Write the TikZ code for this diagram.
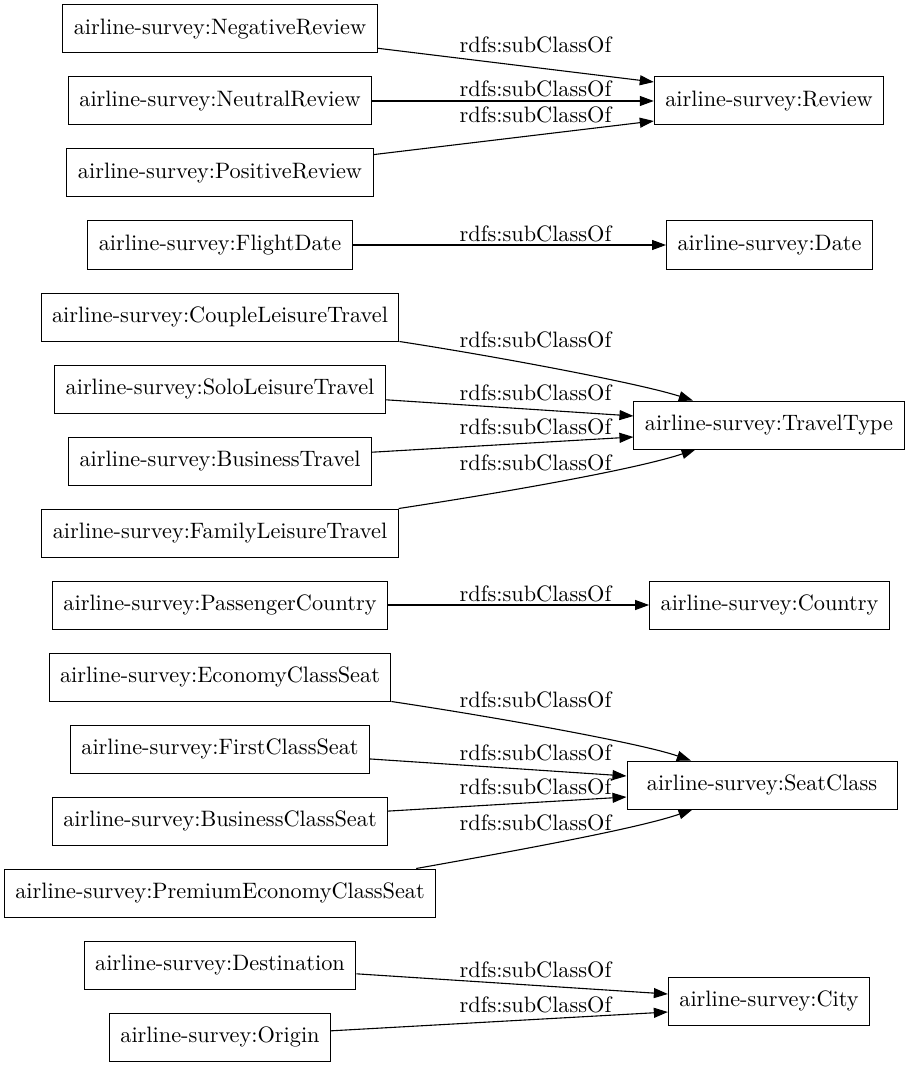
\documentclass[tikz,border=0pt]{standalone}
\usetikzlibrary{arrows.meta}

\font\clsfont="[lmroman10-regular]" at 22.3pt

\begin{document}
\begin{tikzpicture}[
    x=1pt, y=-1pt,
    cls/.style={draw, rectangle, line width=1pt, minimum height=48pt, inner xsep=11pt, font=\clsfont},
    rel/.style={anchor=base, inner sep=0pt, font=\clsfont},
    arrow/.style={-{Triangle[length=14pt, width=10pt]}, line width=1.1pt}
]
    \useasboundingbox (0,0) rectangle (908,1067);

    % Reviews
    \node[cls] (negative) at (220,29) {airline-survey:NegativeReview};
    \node[cls] (neutral) at (220,101) {airline-survey:NeutralReview};
    \node[cls] (positive) at (220,173) {airline-survey:PositiveReview};
    \node[cls] (review) at (769,101) {airline-survey:Review};

    \draw[arrow] (negative) -- ([yshift=19pt]review.west);
    \draw[arrow] (neutral) -- (review);
    \draw[arrow] (positive) -- ([yshift=-20pt]review.west);
    \node[rel] (lnegative) at (535.5,53) {rdfs:subClassOf};
    \node[rel] (lneutral) at (535.5,97) {rdfs:subClassOf};
    \node[rel] (lpositive) at (535.5,123) {rdfs:subClassOf};

    % Dates
    \node[cls] (flightdate) at (220,245) {airline-survey:FlightDate};
    \node[cls] (date) at (769.5,245) {airline-survey:Date};
    \draw[arrow] (flightdate) -- (date);
    \node[rel] (lflightdate) at (535.5,241) {rdfs:subClassOf};

    % Travel types
    \node[cls] (couple) at (220,317) {airline-survey:CoupleLeisureTravel};
    \node[cls] (solo) at (220,389) {airline-survey:SoloLeisureTravel};
    \node[cls] (business) at (220,461) {airline-survey:BusinessTravel};
    \node[cls] (family) at (220,533) {airline-survey:FamilyLeisureTravel};
    \node[cls] (traveltype) at (769,425) {airline-survey:TravelType};

    \draw[arrow] (couple.south east) .. controls (500,357) and (640,383.5) .. (traveltype);
    \draw[arrow] (solo) -- ([yshift=9pt]traveltype.west);
    \draw[arrow] (business) -- ([yshift=-12pt]traveltype.west);
    \draw[arrow] (family.north east) .. controls (520,490) and (640,468) .. (traveltype);
    \node[rel] (lcouple) at (535.5,347) {rdfs:subClassOf};
    \node[rel] (lsolo) at (535.5,400) {rdfs:subClassOf};
    \node[rel] (lbusiness) at (535.5,434) {rdfs:subClassOf};
    \node[rel] (lfamily) at (535.5,470) {rdfs:subClassOf};

    % Countries
    \node[cls] (passenger) at (220,605) {airline-survey:PassengerCountry};
    \node[cls] (country) at (769.5,605) {airline-survey:Country};
    \draw[arrow] (passenger) -- (country);
    \node[rel] (lpassenger) at (535.5,601) {rdfs:subClassOf};

    % Seat classes
    \node[cls] (economy) at (220,677) {airline-survey:EconomyClassSeat};
    \node[cls] (first) at (220,749) {airline-survey:FirstClassSeat};
    \node[cls] (businessseat) at (220,821) {airline-survey:BusinessClassSeat};
    \node[cls] (premium) at (220,893) {airline-survey:PremiumEconomyClassSeat};
    \node[cls, minimum width=270pt] (seatclass) at (762,785) {airline-survey:SeatClass};

    \draw[arrow] (economy.south east) .. controls (495,717) and (640,743) .. (seatclass);
    \draw[arrow] (first) -- ([yshift=9pt]seatclass.west);
    \draw[arrow] (businessseat) -- ([yshift=-12pt]seatclass.west);
    \draw[arrow] ([xshift=-20pt]premium.north east) .. controls (520,850) and (640,828) .. (seatclass);
    \node[rel] (leconomy) at (535.5,707) {rdfs:subClassOf};
    \node[rel] (lfirst) at (535.5,760) {rdfs:subClassOf};
    \node[rel] (lbusinessseat) at (535.5,794) {rdfs:subClassOf};
    \node[rel] (lpremium) at (535.5,830) {rdfs:subClassOf};

    % Cities
    \node[cls] (destination) at (220,965) {airline-survey:Destination};
    \node[cls] (origin) at (220,1037) {airline-survey:Origin};
    \node[cls] (city) at (769,1001) {airline-survey:City};
    \draw[arrow] (destination) -- ([yshift=7pt]city.west);
    \draw[arrow] (origin) -- ([yshift=-11pt]city.west);
    \node[rel] (ldestination) at (535.5,977) {rdfs:subClassOf};
    \node[rel] (lorigin) at (535.5,1012) {rdfs:subClassOf};
\end{tikzpicture}
\end{document}
